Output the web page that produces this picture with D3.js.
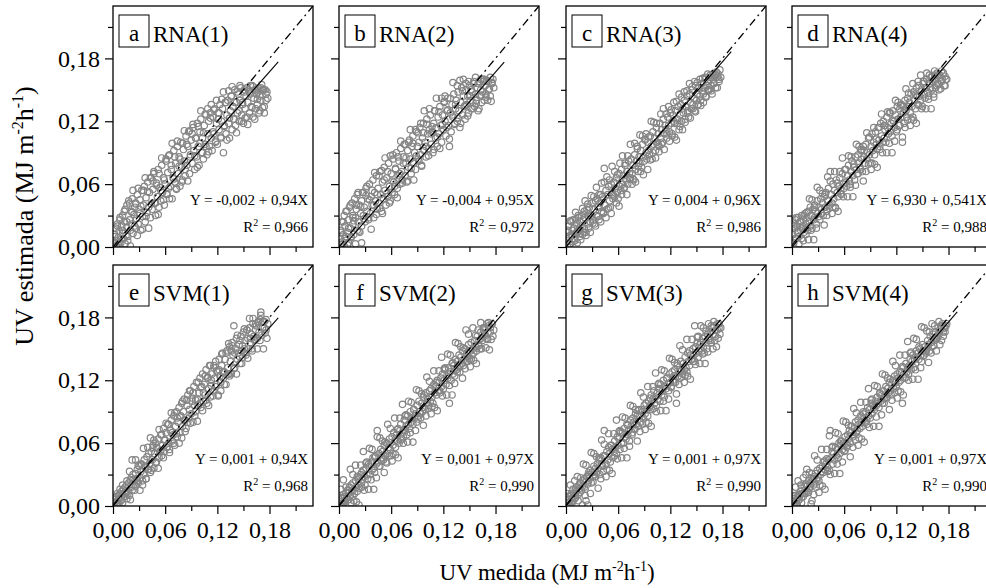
<!DOCTYPE html>
<html>
<head>
<meta charset="utf-8">
<script src="https://cdn.jsdelivr.net/npm/d3@7"></script>
<style>
body{margin:0;background:#fff}
svg{display:block;font-family:"Liberation Serif","Times New Roman",serif}
</style>
</head>
<body>
<script>
const width = 986, height = 588

// UV medida, in 0.001 MJ m-2 h-1 (same test set for every panel)
const medida = [
  1,2,2,3,4,5,6,6,7,8,
  9,10,11,11,12,13,14,15,16,16,
  17,18,19,20,21,21,22,23,24,25,
  26,26,27,28,29,30,31,32,33,34,
  35,36,37,38,39,40,41,42,43,44,
  45,46,47,48,49,50,51,52,53,54,
  55,56,57,58,59,60,61,62,63,64,
  65,66,67,68,69,70,71,72,73,74,
  75,76,77,78,79,80,81,82,83,84,
  85,86,87,88,89,90,91,92,93,94,
  95,96,97,98,99,100,101,102,103,104,
  105,106,107,108,109,110,111,112,113,114,
  115,116,117,118,119,120,121,122,123,124,
  125,126,127,128,129,130,131,132,133,134,
  135,136,137,138,139,140,141,142,143,144,
  145,146,147,148,149,150,151,152,153,154,
  155,156,157,158,159,160,161,162,163,164,
  165,166,167,168,169,170,172,174,176,178,
  2,4,5,7,8,10,11,13,14,16,
  17,19,20,22,23,25,26,28,29,31,
  32,34,35,37,38,40,41,43,44,46,
  47,49,50,52,53,55,56,58,59,61,
  62,64,65,67,68,70,71,73,74,76,
  77,79,80,82,83,85,86,88,89,91,
  92,94,95,97,98,100,101,103,104,106,
  107,109,110,112,113,115,116,118,119,121,
  122,124,125,127,128,130,131,133,134,136,
  137,139,140,142,143,145,146,148,149,151,
  152,154,155,157,158,160,161,163,164,166,
  167,169,170,171,172,173,174,175,176,177
]

// UV estimada by each model, same order as medida (0.001 units)
const rna1 = [
  3,12,0,18,6,22,9,2,15,26,
  4,20,13,30,8,24,36,11,19,40,
  10,44,26,16,34,22,46,13,31,38,
  18,42,27,50,22,36,45,16,54,29,
  40,58,24,47,33,62,38,52,28,66,
  36,55,70,42,30,61,48,74,38,57,
  44,78,52,66,40,60,84,50,71,56,
  88,58,74,46,66,92,62,80,55,96,
  70,86,58,100,76,64,93,82,68,106,
  78,96,110,70,88,102,80,114,92,74,
  104,86,118,96,78,110,122,90,104,84,
  116,98,126,88,108,120,96,128,104,92,
  124,108,132,100,118,98,128,112,136,104,
  120,132,90,116,138,108,126,140,118,104,
  130,144,112,134,122,150,116,138,128,146,
  120,140,152,126,136,118,148,132,144,124,
  138,150,128,146,134,154,124,142,150,132,
  146,136,152,128,144,140,150,134,146,142,
  10,1,20,5,28,8,16,34,3,24,
  6,42,1,33,54,20,41,11,56,32,
  39,17,54,66,29,53,18,66,41,63,
  72,42,59,31,70,54,85,45,64,82,
  51,87,46,78,99,65,86,56,101,77,
  84,62,99,111,74,98,63,111,86,108,
  117,87,104,76,115,99,130,90,109,127,
  96,132,91,123,136,110,131,101,140,122,
  128,105,141,148,115,138,102,149,123,144,
  153,122,138,109,148,130,154,120,138,150,
  123,152,117,148,154,133,153,122,150,141,
  148,130,152,155,133,150,128,150,140,148
]
const rna2 = [
  8,2,16,24,5,12,30,1,20,10,
  34,14,4,26,38,18,9,42,22,30,
  12,46,28,36,16,50,24,40,14,32,
  44,20,52,30,38,24,56,34,46,26,
  60,32,48,40,64,28,52,44,68,36,
  56,42,72,50,34,62,46,76,54,40,
  66,48,80,58,44,70,52,84,62,50,
  74,90,56,68,82,60,94,72,64,86,
  98,68,80,62,92,76,102,84,70,96,
  106,80,90,74,110,96,84,100,114,88,
  78,104,118,92,100,86,122,108,94,112,
  126,98,110,90,118,130,104,114,96,124,
  108,134,116,100,126,112,138,120,106,130,
  142,116,96,128,110,136,124,146,118,132,
  140,120,148,130,114,138,152,126,144,134,
  122,150,136,144,128,154,140,132,148,138,
  156,134,146,140,152,130,158,144,150,138,
  148,160,140,154,146,158,150,144,156,152,
  14,3,24,8,34,2,18,40,10,28,
  25,3,40,52,15,39,4,52,27,49,
  58,28,45,17,54,40,71,31,50,68,
  37,73,32,64,85,51,72,42,87,63,
  88,58,75,47,86,70,101,61,80,98,
  85,63,100,112,75,99,64,112,87,109,
  82,118,77,109,130,96,117,87,132,108,
  115,93,130,142,105,129,94,142,117,139,
  144,114,131,103,142,126,157,117,136,154,
  123,159,118,149,160,135,156,125,158,144,
  150,132,158,162,137,156,132,160,145,158,
  160,143,159,140,158,151,162,139,157,160
]
const rna3 = [
  6,14,0,20,9,3,24,12,16,5,
  18,8,26,13,22,4,28,16,10,24,
  20,30,12,26,34,18,28,14,36,22,
  32,18,38,24,30,42,26,36,22,44,
  30,46,38,26,42,50,34,48,32,75,
  40,54,36,50,58,44,38,60,50,46,
  62,48,56,66,52,46,70,58,54,74,
  60,68,56,78,64,72,60,82,70,66,
  84,70,78,64,88,74,82,94,72,86,
  80,92,76,98,86,82,102,90,84,100,
  92,88,106,96,84,110,98,104,92,114,
  100,108,96,118,104,112,100,122,108,116,
  112,104,124,116,110,128,118,106,126,120,
  118,130,102,122,134,112,126,136,120,132,
  128,140,122,134,144,130,124,146,138,132,
  150,136,142,130,154,140,146,136,152,144,
  140,156,148,138,152,160,144,154,150,158,
  150,162,154,146,160,156,164,152,158,162,
  16,2,25,11,26,6,33,15,30,13,
  7,37,14,44,11,41,29,14,49,23,
  48,20,57,29,50,24,61,33,62,28,
  67,37,64,32,77,49,72,42,69,39,
  80,50,87,57,80,50,87,65,98,60,
  65,99,62,96,77,107,72,106,69,103,
  108,74,105,83,120,90,119,85,118,98,
  91,127,98,132,93,127,108,134,101,131,
  108,138,105,139,118,146,115,143,112,148,
  119,149,128,156,123,153,132,158,129,157,
  136,160,135,161,146,162,143,165,150,164,
  149,165,156,163,152,167,162,165,160,169
]
const rna4 = [
  12,22,4,18,26,8,20,14,28,10,
  24,16,30,8,20,26,14,32,22,18,
  28,16,34,24,20,38,30,18,36,26,
  40,28,34,22,44,32,38,26,46,36,
  42,30,48,38,52,34,44,56,40,72,
  50,42,60,46,54,38,64,52,48,58,
  66,54,50,70,60,56,74,62,58,68,
  78,64,60,72,82,68,76,64,86,74,
  70,88,80,76,92,84,72,96,86,80,
  98,84,90,104,88,80,96,108,92,100,
  88,110,98,94,114,102,96,118,106,100,
  120,104,112,100,124,114,108,128,110,118,
  106,130,120,114,126,110,134,122,116,132,
  124,136,100,128,118,140,130,124,142,134,
  138,128,146,134,124,148,140,132,152,144,
  136,154,144,140,150,134,156,146,142,152,
  160,148,144,156,152,162,150,158,146,164,
  152,160,156,164,150,162,158,166,154,160,
  20,8,28,14,3,24,18,6,30,12,
  33,7,46,16,45,7,38,18,57,29,
  54,32,51,21,50,30,67,37,63,32,
  38,72,37,61,34,72,51,85,48,74,
  74,48,87,57,86,48,79,59,98,70,
  96,74,93,63,92,72,109,79,105,74,
  80,114,79,103,76,114,93,127,90,116,
  116,90,129,99,128,90,121,101,140,112,
  138,116,135,105,134,114,151,121,147,116,
  122,156,121,145,118,158,135,164,132,158,
  158,132,166,141,164,132,163,143,168,154,
  166,155,164,151,168,160,166,154,163,160
]
const svm1 = [
  2,0,6,4,9,3,1,10,7,12,
  5,14,11,3,16,9,18,12,7,20,
  14,22,10,25,18,27,15,30,20,24,
  31,19,26,35,22,38,27,33,40,24,
  30,44,38,26,47,35,50,40,32,52,
  44,56,36,50,60,42,55,64,46,52,
  68,48,58,74,52,63,70,56,78,60,
  54,72,82,62,68,86,58,76,90,66,
  80,94,70,86,98,76,90,102,82,74,
  96,106,84,92,110,88,100,80,114,96,
  90,118,102,96,108,122,94,114,126,100,
  116,106,130,98,122,112,134,104,120,126,
  110,132,122,138,116,128,106,140,124,118,
  134,146,122,128,140,116,148,132,126,152,
  138,126,156,144,172,132,150,160,140,146,
  154,136,162,148,142,166,150,158,144,168,
  160,150,170,156,164,148,174,162,158,168,
  172,160,176,166,178,185,170,176,168,174,
  8,1,12,3,16,6,20,9,13,24,
  11,33,6,44,25,15,44,24,39,15,
  40,20,55,37,26,56,35,65,34,58,
  63,41,56,36,73,53,68,46,63,79,
  56,78,51,89,70,60,89,69,84,60,
  85,65,100,82,71,101,80,110,79,103,
  108,86,101,81,118,98,113,91,108,124,
  101,123,96,134,115,105,134,114,129,105,
  130,110,145,127,116,146,125,155,124,148,
  153,131,146,126,163,143,158,136,153,169,
  146,168,141,179,160,150,179,159,174,150,
  175,158,182,163,176,150,170,165,178,160
]
const svm2 = [
  4,0,8,2,7,11,3,9,5,13,
  8,15,12,6,18,10,20,14,9,22,
  16,12,24,18,14,28,20,26,17,30,
  22,32,25,34,28,20,36,30,26,40,
  38,30,42,34,46,36,32,48,40,72,
  42,50,38,54,46,52,44,58,48,42,
  60,50,56,64,54,48,66,58,70,62,
  56,68,62,74,60,72,78,64,70,66,
  82,72,76,68,86,78,74,90,80,84,
  78,92,84,88,80,96,86,100,90,84,
  98,90,104,94,92,108,98,102,96,110,
  100,112,104,98,116,108,114,106,120,110,
  118,110,122,114,126,112,120,130,116,124,
  122,132,98,128,120,136,126,134,124,140,
  130,138,132,144,128,142,136,148,134,140,
  150,138,146,142,154,140,148,156,144,150,
  146,158,152,148,162,154,158,150,166,160,
  158,168,162,164,170,160,172,166,174,168,
  16,2,25,4,18,6,15,35,3,30,
  5,39,4,28,1,39,18,52,15,41,
  42,16,55,25,54,16,47,27,66,38,
  65,43,62,32,61,41,78,48,74,43,
  50,84,49,73,46,84,63,97,60,86,
  87,61,100,70,99,61,92,72,111,83,
  110,88,107,77,106,86,123,93,119,88,
  95,129,94,118,91,129,108,142,105,131,
  132,106,145,115,144,106,137,117,156,128,
  155,133,152,122,151,131,168,138,164,133,
  140,170,139,163,136,168,153,175,150,170,
  170,151,174,159,175,149,170,159,174,162
]
const svm3 = [
  2,6,0,9,4,10,3,12,7,5,
  12,7,16,10,14,18,11,20,13,17,
  22,15,19,24,18,26,16,5,28,21,
  30,24,27,34,22,32,28,38,30,36,
  32,40,36,44,30,46,40,38,48,72,
  48,40,52,44,56,50,42,58,54,46,
  52,62,56,50,66,58,64,54,70,60,
  70,60,74,66,64,78,68,72,62,82,
  76,70,84,80,74,88,78,86,76,92,
  86,80,92,90,84,96,88,98,92,86,
  100,94,96,106,92,102,110,98,104,96,
  108,102,112,100,116,106,110,120,104,114,
  112,122,116,110,126,118,114,128,120,124,
  130,118,98,134,124,128,122,138,130,126,
  136,130,142,132,128,146,138,134,144,140,
  140,150,144,138,152,146,156,142,148,154,
  156,148,160,152,146,162,156,150,164,158,
  160,166,156,170,164,172,162,168,174,170,
  12,1,20,3,16,24,8,28,5,22,
  27,1,40,10,39,1,32,12,51,23,
  50,28,47,17,46,26,63,33,59,28,
  35,69,34,58,31,69,48,82,45,71,
  72,46,85,55,84,46,77,57,96,68,
  95,73,92,62,91,71,108,78,104,73,
  80,114,79,103,76,114,93,127,90,116,
  117,91,130,100,129,91,122,102,141,113,
  140,118,137,107,136,116,153,123,149,118,
  125,159,124,148,121,159,138,172,135,161,
  162,136,172,145,170,136,167,147,174,158,
  172,150,176,158,168,152,174,160,170,164
]
const svm4 = [
  4,1,7,3,10,5,8,2,11,6,
  10,14,8,17,12,9,19,15,12,21,
  14,20,24,17,22,19,27,5,25,20,
  28,22,31,26,34,27,24,36,30,33,
  38,32,42,35,40,45,37,44,34,72,
  46,52,40,50,44,56,48,54,46,60,
  50,58,62,54,60,52,66,60,56,68,
  64,72,60,70,76,66,68,74,80,70,
  72,82,78,74,86,80,76,90,84,80,
  90,82,94,86,92,84,98,88,96,94,
  92,100,96,104,98,94,108,100,106,98,
  110,102,106,114,104,112,108,118,110,106,
  116,120,112,124,118,114,126,122,118,128,
  120,128,98,132,126,122,136,128,132,126,
  134,140,130,138,144,132,140,136,148,142,
  146,140,150,144,138,154,148,144,152,146,
  150,158,154,148,162,156,152,164,158,160,
  166,160,162,170,164,168,172,166,170,174,
  10,18,2,24,6,20,3,27,12,30,
  35,13,32,2,31,11,48,18,44,13,
  20,54,19,43,16,54,33,67,30,56,
  57,31,70,40,69,31,62,42,81,53,
  80,58,77,47,76,56,93,63,89,58,
  65,99,64,88,61,99,78,112,75,101,
  102,76,115,85,114,76,107,87,126,98,
  125,103,122,92,121,101,138,108,134,103,
  110,144,109,133,106,144,123,157,120,146,
  147,121,160,130,159,121,152,132,171,143,
  170,148,167,137,166,146,174,153,172,148,
  160,176,154,172,158,174,162,170,166,172
]

const panelIds = ['a','b','c','d','e','f','g','h']
const panelNames = ['RNA(1)','RNA(2)','RNA(3)','RNA(4)','SVM(1)','SVM(2)','SVM(3)','SVM(4)']
const equations = ['Y = -0,002 + 0,94X','Y = -0,004 + 0,95X','Y = 0,004 + 0,96X','Y = 6,930 + 0,541X',
  'Y = 0,001 + 0,94X','Y = 0,001 + 0,97X','Y = 0,001 + 0,97X','Y = 0,001 + 0,97X']
const r2 = ['0,966','0,972','0,986','0,988','0,968','0,990','0,990','0,990']
const fitIntercept = [-0.002,-0.004,0.004,0.002,0.001,0.001,0.001,0.001]
const fitSlope = [0.94,0.95,0.96,0.97,0.94,0.97,0.97,0.97]
const majorTicks = [0,0.06,0.12,0.18]
const minorTicks = [0.03,0.09,0.15,0.21]

const estimada = [rna1,rna2,rna3,rna4,svm1,svm2,svm3,svm4]

const pw = 200, ph = 241
const colX = [113,339,566,792]
const rowY = [6,265]

const x = d3.scaleLinear().domain([0,0.23]).range([0,pw])
const y = d3.scaleLinear().domain([0,0.23]).range([ph,0])
const fmt = d => d.toFixed(2).replace('.',',')

const svg = d3.select('body').append('svg')
  .attr('width',width)
  .attr('height',height)

panelIds.forEach((id,i)=>{
  const col = i%4, row = Math.floor(i/4)
  const g = svg.append('g').attr('transform',`translate(${colX[col]},${rowY[row]})`)

  g.append('clipPath').attr('id','clip'+id)
    .append('rect').attr('width',pw).attr('height',ph)
  const plot = g.append('g').attr('clip-path',`url(#clip${id})`)

  const pts = medida.map((m,j)=>[m/1000, estimada[i][j]/1000])
  plot.selectAll('circle').data(pts).enter().append('circle')
    .attr('cx',d=>x(d[0]))
    .attr('cy',d=>y(d[1]))
    .attr('r',3.2)
    .style('fill','none')
    .style('stroke','#858585')
    .style('stroke-width',1.2)

  // 1:1 line
  plot.append('line')
    .attr('x1',x(0)).attr('y1',y(0)).attr('x2',x(0.23)).attr('y2',y(0.23))
    .style('stroke','#000').style('stroke-width',1.3)
    .style('stroke-dasharray','8,4,2,4')

  // fitted line
  plot.append('line')
    .attr('x1',x(0)).attr('y1',y(fitIntercept[i]))
    .attr('x2',x(0.19)).attr('y2',y(fitIntercept[i]+fitSlope[i]*0.19))
    .style('stroke','#000').style('stroke-width',1.1)

  // axes
  const yMaj = g.append('g').call(d3.axisLeft(y).tickValues(majorTicks).tickSize(8).tickPadding(5)
    .tickFormat(col==0 ? fmt : ''))
  const yMin = g.append('g').call(d3.axisLeft(y).tickValues(minorTicks).tickSize(5).tickFormat(''))
  const xMaj = g.append('g').attr('transform',`translate(0,${ph})`)
    .call(d3.axisBottom(x).tickValues(majorTicks).tickSize(8).tickPadding(7)
    .tickFormat(row==1 ? fmt : ''))
  const xMin = g.append('g').attr('transform',`translate(0,${ph})`)
    .call(d3.axisBottom(x).tickValues(minorTicks).tickSize(5).tickFormat(''))
  ;[yMaj,yMin,xMaj,xMin].forEach(a=>{
    a.select('.domain').remove()
    a.selectAll('line').style('stroke','#000').style('stroke-width',1.2)
    a.attr('font-family',null).attr('font-size',null)
    a.selectAll('text').style('font-size','24px').style('fill','#000')
  })

  g.append('rect').attr('width',pw).attr('height',ph)
    .style('fill','none').style('stroke','#000').style('stroke-width',1.3)

  // label box
  g.append('rect').attr('x',6).attr('y',9).attr('width',30).attr('height',32)
    .style('fill','#fff').style('stroke','#000').style('stroke-width',1)
  g.append('text').attr('x',21).attr('y',35).attr('text-anchor','middle')
    .style('font-size','23px').text(id)
  g.append('text').attr('x',40).attr('y',36)
    .style('font-size','23px').text(panelNames[i])

  g.append('text').attr('x',pw-5).attr('y',ph-42).attr('text-anchor','end')
    .style('font-size','15px').text(equations[i])
  const rt = g.append('text').attr('x',pw-5).attr('y',ph-15).attr('text-anchor','end')
    .style('font-size','15px')
  rt.append('tspan').text('R')
  rt.append('tspan').attr('dy',-6).style('font-size','10px').text('2')
  rt.append('tspan').attr('dy',6).text(' = '+r2[i])
})

// axis titles
const xt = svg.append('text').attr('x',547).attr('y',580).attr('text-anchor','middle')
  .style('font-size','23px')
xt.append('tspan').text('UV medida (MJ m')
xt.append('tspan').attr('dy',-9).style('font-size','14px').text('-2')
xt.append('tspan').attr('dy',9).text('h')
xt.append('tspan').attr('dy',-9).style('font-size','14px').text('-1')
xt.append('tspan').attr('dy',9).text(')')

const yt = svg.append('text').attr('transform','translate(33,216) rotate(-90)')
  .attr('text-anchor','middle').style('font-size','26px')
yt.append('tspan').text('UV estimada (MJ m')
yt.append('tspan').attr('dy',-10).style('font-size','16px').text('-2')
yt.append('tspan').attr('dy',10).text('h')
yt.append('tspan').attr('dy',-10).style('font-size','16px').text('-1')
yt.append('tspan').attr('dy',10).text(')')
</script>
</body>
</html>
